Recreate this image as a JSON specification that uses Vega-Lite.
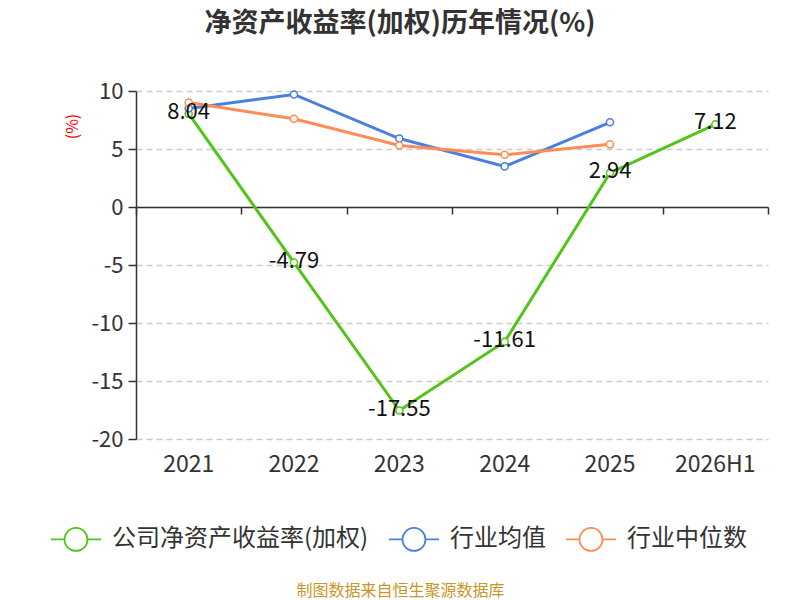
{
  "$schema": "https://vega.github.io/schema/vega-lite/v6.json",
  "width": 632,
  "height": 348,
  "autosize": {"type": "none"},
  "padding": {"left": 136, "top": 91, "right": 32, "bottom": 161},
  "background": "white",
  "title": {
    "text": "净资产收益率(加权)历年情况(%)",
    "fontSize": 27,
    "fontWeight": "bold",
    "color": "#333333",
    "font": "Noto Sans CJK SC",
    "anchor": "middle",
    "frame": "group",
    "dx": -52,
    "offset": 42
  },
  "data": {
    "values": [
      {"year": "2021", "series": "公司净资产收益率(加权)", "value": 8.04},
      {"year": "2022", "series": "公司净资产收益率(加权)", "value": -4.79},
      {"year": "2023", "series": "公司净资产收益率(加权)", "value": -17.55},
      {"year": "2024", "series": "公司净资产收益率(加权)", "value": -11.61},
      {"year": "2025", "series": "公司净资产收益率(加权)", "value": 2.94},
      {"year": "2026H1", "series": "公司净资产收益率(加权)", "value": 7.12},
      {"year": "2021", "series": "行业均值", "value": 8.5},
      {"year": "2022", "series": "行业均值", "value": 9.7},
      {"year": "2023", "series": "行业均值", "value": 5.9},
      {"year": "2024", "series": "行业均值", "value": 3.5},
      {"year": "2025", "series": "行业均值", "value": 7.3},
      {"year": "2021", "series": "行业中位数", "value": 9.0},
      {"year": "2022", "series": "行业中位数", "value": 7.6},
      {"year": "2023", "series": "行业中位数", "value": 5.3},
      {"year": "2024", "series": "行业中位数", "value": 4.5},
      {"year": "2025", "series": "行业中位数", "value": 5.4}
    ]
  },
  "resolve": {"axis": {"x": "independent"}},
  "layer": [
    {
      "mark": {
        "type": "line",
        "strokeWidth": 3,
        "point": {"filled": false, "fill": "white", "size": 50, "strokeWidth": 1.5}
      },
      "encoding": {
        "x": {
          "field": "year",
          "type": "nominal",
          "sort": null,
          "scale": {"paddingInner": 0, "paddingOuter": 0},
          "axis": {
            "orient": "bottom",
            "domain": false,
            "ticks": false,
            "grid": false,
            "labelAngle": 0,
            "labelFontSize": 23,
            "labelColor": "#333333",
            "labelPadding": 14,
            "title": "制图数据来自恒生聚源数据库",
            "titleColor": "#c8962a",
            "titleFontSize": 16,
            "titleFontWeight": "normal",
            "titleX": 264,
            "titleY": 151,
            "titleAnchor": "middle",
            "titleBaseline": "middle"
          }
        },
        "y": {
          "field": "value",
          "type": "quantitative",
          "scale": {"domain": [-20, 10], "nice": false},
          "axis": {
            "values": [-20, -15, -10, -5, 0, 5, 10],
            "labelExpr": "datum.value + ''",
            "domain": true,
            "domainColor": "#333333",
            "domainWidth": 1.5,
            "ticks": true,
            "tickColor": "#333333",
            "tickSize": 8,
            "tickWidth": 1.5,
            "grid": true,
            "gridColor": "#cccccc",
            "gridDash": [6, 4],
            "gridWidth": 1.5,
            "labelFontSize": 22,
            "labelColor": "#333333",
            "labelPadding": 5,
            "title": "(%)",
            "titleColor": "#ff0000",
            "titleFontSize": 16,
            "titleFontWeight": "normal",
            "titleX": -64,
            "titleY": 35,
            "titleAngle": -90,
            "titleAlign": "center",
            "titleBaseline": "middle"
          }
        },
        "color": {
          "field": "series",
          "type": "nominal",
          "sort": ["公司净资产收益率(加权)", "行业均值", "行业中位数"],
          "scale": {
            "domain": ["公司净资产收益率(加权)", "行业均值", "行业中位数"],
            "range": ["#52c41a", "#4a7fe0", "#ff8c55"]
          },
          "legend": {
            "title": null,
            "orient": "none",
            "direction": "horizontal",
            "legendX": -86,
            "legendY": 422,
            "symbolType": "M-1,0L-0.46,0M0.46,0L1,0M-0.46,0A0.46,0.46 0 1,1 0.46,0A0.46,0.46 0 1,1 -0.46,0",
            "symbolSize": 2500,
            "symbolStrokeWidth": 1.8,
            "symbolFillColor": "white",
            "labelFontSize": 24,
            "labelColor": "#333333",
            "labelOffset": 10,
            "columnPadding": 16,
            "labelLimit": 400
          }
        }
      }
    },
    {
      "transform": [{"filter": "datum.series === '公司净资产收益率(加权)'"}],
      "mark": {"type": "text", "fontSize": 22, "color": "#111111", "baseline": "middle", "align": "center", "dy": -2},
      "encoding": {
        "x": {
          "field": "year",
          "type": "nominal",
          "sort": null,
          "scale": {"paddingInner": 0, "paddingOuter": 0},
          "axis": {
            "orient": "bottom",
            "offset": -232,
            "labels": false,
            "grid": false,
            "domain": true,
            "domainColor": "#333333",
            "domainWidth": 1.5,
            "ticks": true,
            "tickBand": "extent",
            "tickColor": "#333333",
            "tickSize": 7,
            "tickWidth": 1.5,
            "title": null
          }
        },
        "y": {"field": "value", "type": "quantitative"},
        "text": {"field": "value", "type": "nominal"}
      }
    }
  ],
  "config": {
    "font": "Noto Sans CJK SC",
    "view": {"stroke": null}
  }
}
